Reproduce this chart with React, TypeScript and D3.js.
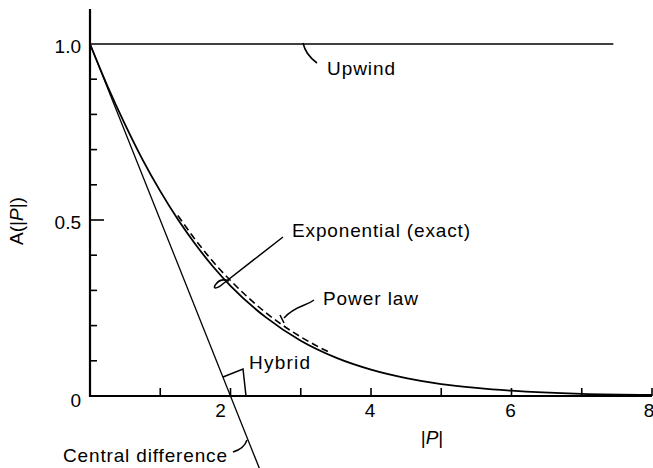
import React from "react";
import * as d3 from "d3";

// |P| sample points and curve values
const expP = [0, 0.25, 0.5, 0.75, 1.0, 1.25, 1.5, 1.75, 2.0, 2.5, 3.0, 3.5, 4.0, 4.5, 5.0, 5.5, 6.0, 7.0, 8.0];
const expA = [1.0, 0.88, 0.771, 0.671, 0.582, 0.502, 0.431, 0.368, 0.313, 0.224, 0.157, 0.109, 0.075, 0.051, 0.034, 0.023, 0.015, 0.006, 0.003];

const powP = [1.25, 1.5, 1.75, 2.0, 2.25, 2.5, 2.75, 3.0, 3.25, 3.4];
const powA = [0.513, 0.444, 0.382, 0.328, 0.28, 0.237, 0.2, 0.168, 0.14, 0.125];

const centralP = [0, 2.42];
const centralA = [1.0, -0.21];

const upwindP = [0, 7.45];
const upwindA = [1.0, 1.0];

const xTicks = [1, 2, 3, 4, 5, 6, 7, 8];
const xTickLabels = ["2", "4", "6", "8"];
const yTicks = [0.1, 0.2, 0.3, 0.4, 0.5, 0.6, 0.7, 0.8, 0.9];
const yTickLabels = ["0", "0.5", "1.0"];

export default function App() {
  const W = 653, H = 468;
  const x = d3.scaleLinear().domain([0, 8]).range([90, 652]);
  const y = d3.scaleLinear().domain([0, 1]).range([396, 44]);
  const line = d3.line<[number, number]>().x(d => x(d[0])).y(d => y(d[1]));
  const smooth = d3.line<[number, number]>().x(d => x(d[0])).y(d => y(d[1])).curve(d3.curveMonotoneX);
  const zip = (a: number[], b: number[]) => a.map((v, i) => [v, b[i]] as [number, number]);
  const font = "'Liberation Sans', Arial, Helvetica, sans-serif";

  return (
    <svg width={W} height={H} style={{ position: "absolute", left: 0, top: 0, background: "#fff" }} fontFamily={font}>
      <rect x={0} y={0} width={W} height={H} fill="#fff" />
      {/* axes */}
      <line x1={x(0)} y1={9} x2={x(0)} y2={y(0) + 1} stroke="#000" strokeWidth={2.2} />
      <line x1={x(0) - 1} y1={y(0)} x2={x(8)} y2={y(0)} stroke="#000" strokeWidth={2.2} />
      {yTicks.map(t => (
        <line key={"yt" + t} x1={x(0)} x2={x(0) + (Math.abs(t - 0.5) < 1e-6 ? 14 : 7)} y1={y(t)} y2={y(t)} stroke="#000" strokeWidth={1.6} />
      ))}
      {xTicks.map(t => (
        <line key={"xt" + t} x1={x(t)} x2={x(t)} y1={y(0)} y2={y(0) - 8} stroke="#000" strokeWidth={1.6} />
      ))}
      {yTickLabels.map(l => (
        <text key={"yl" + l} x={81} y={y(+l) + (l === "0" ? 11 : 9)} textAnchor="end" fontSize={19}>{l}</text>
      ))}
      {xTickLabels.map(l => (
        <text key={"xl" + l} x={x(+l) + (l === "2" ? -10 : l === "8" ? -3 : -1)} y={417} textAnchor="middle" fontSize={19}>{l}</text>
      ))}
      <text transform={`translate(23,221) rotate(-90)`} textAnchor="middle" fontSize={19}>
        A(|<tspan fontStyle="italic">P</tspan>|)
      </text>
      <text x={432} y={444} textAnchor="middle" fontSize={19}>
        |<tspan fontStyle="italic">P</tspan>|
      </text>

      {/* curves */}
      <path d={line(zip(upwindP, upwindA)) || ""} fill="none" stroke="#000" strokeWidth={1.6} />
      <path d={line(zip(centralP, centralA)) || ""} fill="none" stroke="#000" strokeWidth={1.3} />
      <path d={smooth(zip(expP, expA)) || ""} fill="none" stroke="#000" strokeWidth={1.8} />
      <path d={smooth(zip(powP, powA)) || ""} fill="none" stroke="#000" strokeWidth={1.6} strokeDasharray="7 4" />

      {/* annotations */}
      <path d="M303,43 C305,52 310,58 317,63" fill="none" stroke="#000" strokeWidth={1.6} />
      <text x={327} y={75} fontSize={19} textLength={68} lengthAdjust="spacing">Upwind</text>

      <path d="M283,237 L224,283 C216,290 212,289 216,284 C219,280 224,279 229,281" fill="none" stroke="#000" strokeWidth={1.5} />
      <text x={292} y={237} fontSize={19} textLength={178} lengthAdjust="spacing">Exponential (exact)</text>

      <path d="M314,300 C305,307 296,305 284,318" fill="none" stroke="#000" strokeWidth={1.5} />
      <path d="M280,315 L284,323" fill="none" stroke="#000" strokeWidth={1.5} />
      <text x={323} y={305} fontSize={19} textLength={95} lengthAdjust="spacing">Power law</text>

      <path d="M223,377 L243,369 L246,396" fill="none" stroke="#000" strokeWidth={1.5} />
      <text x={249} y={369} fontSize={19} textLength={61} lengthAdjust="spacing">Hybrid</text>

      <path d="M233,452 C240,450 245,446 247,440" fill="none" stroke="#000" strokeWidth={1.5} />
      <text x={63} y={462} fontSize={19} textLength={164} lengthAdjust="spacing">Central difference</text>
    </svg>
  );
}
